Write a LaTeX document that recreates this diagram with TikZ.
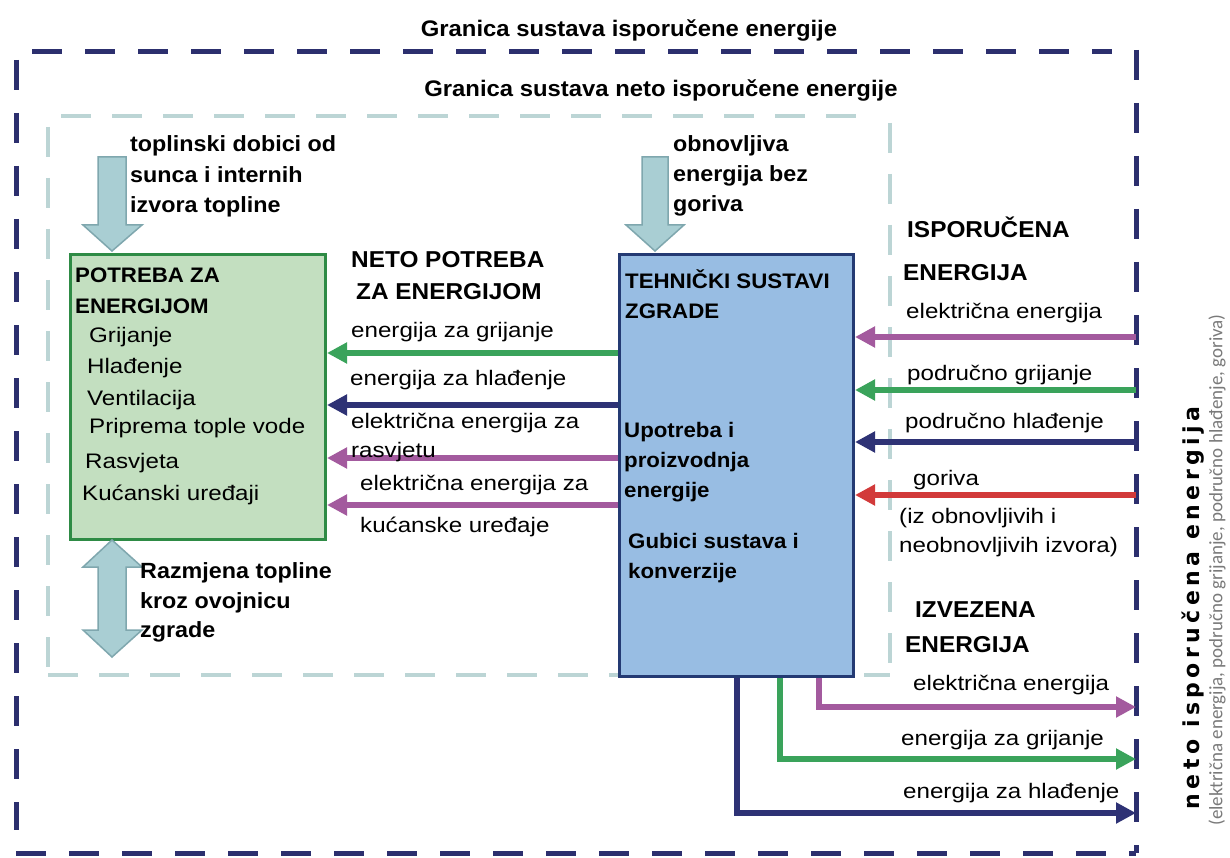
\documentclass[tikz,border=0pt]{standalone}
\usepackage{fontspec}
\setmainfont{Liberation Sans}
\newfontfamily\labf{Liberation Sans}[FakeStretch=1.15]
\newfontfamily\boldf{Liberation Sans Bold}[FakeStretch=1.06]
\newfontfamily\rotf{DejaVu Sans}[LetterSpace=20]
\newfontfamily\grayf{Carlito}
\usetikzlibrary{arrows.meta}
\definecolor{navy}{HTML}{2C2F6E}
\definecolor{innerc}{HTML}{BCD5D5}
\definecolor{gfill}{HTML}{C3DFC0}
\definecolor{gdraw}{HTML}{2E8B45}
\definecolor{bfill}{HTML}{98BDE3}
\definecolor{bdraw}{HTML}{243A73}
\definecolor{ag}{HTML}{3AA35B}
\definecolor{an}{HTML}{2E3275}
\definecolor{ap}{HTML}{A35A9E}
\definecolor{ar}{HTML}{D23A3A}
\definecolor{bafill}{HTML}{A9CED3}
\definecolor{badraw}{HTML}{7FA7AE}
\definecolor{gtxt}{HTML}{7A7A7A}
\tikzset{
 outerb/.style={navy, line width=5pt, dash pattern=on 30pt off 23pt},
 innerb/.style={innerc, line width=4pt, dash pattern=on 30pt off 21pt},
 tt/.style={anchor=base, inner sep=0pt, font=\fontsize{22.5}{26}\selectfont\boldf},
 bt/.style={anchor=base west, inner sep=0pt, font=\fontsize{22}{26}\selectfont\boldf},
 bh/.style={anchor=base west, inner sep=0pt, font=\fontsize{23}{27}\selectfont\boldf},
 bb/.style={anchor=base west, inner sep=0pt, font=\fontsize{21}{26}\selectfont\boldf},
 lt/.style={anchor=base west, inner sep=0pt, font=\fontsize{21}{25}\selectfont\labf},
 flow/.style={line width=6pt, line join=miter, -{Triangle[length=20pt,width=20pt]}},
 blk/.style={fill=bafill, draw=badraw, line width=1.5pt, line join=miter},
}
\begin{document}
\begin{tikzpicture}[x=1pt,y=-1pt]
\useasboundingbox[fill=white] (0,0) rectangle (1230,858);
% outer boundary
\draw[outerb] (32,52) -- (1112,52);
\draw[outerb] (1136,50) -- (1136,853);
\draw[outerb] (16,60) -- (16,830);
\draw[outerb] (16,853) -- (1136,853);
% inner boundary
\draw[innerb] (61,116) -- (873,116);
\draw[innerb] (48,127) -- (48,675);
\draw[innerb] (48,675) -- (890,675);
\draw[innerb] (890,123) -- (890,675);
% titles
\node[tt] (title1) at (629,37) {Granica sustava isporučene energije};
\node[tt] (title2) at (661,97) {Granica sustava neto isporučene energije};
% boxes
\node[draw=gdraw, fill=gfill, line width=3pt, anchor=north west, minimum width=255pt, minimum height=285pt, inner sep=0pt] (G) at (69,253) {};
\node[draw=bdraw, fill=bfill, line width=3pt, anchor=north west, minimum width=234pt, minimum height=422pt, inner sep=0pt] (B) at (618,253) {};
% block arrows
\draw[blk] (98,157) -- (126,157) -- (126,225) -- (142,225) -- (112,251) -- (83,225) -- (98,225) -- cycle;
\draw[blk] (642,157) -- (668,157) -- (668,225) -- (684,225) -- (655,251) -- (626,225) -- (642,225) -- cycle;
\draw[blk] (112,540) -- (142,567) -- (126,567) -- (126,630) -- (142,630) -- (112,657) -- (83,630) -- (98,630) -- (98,567) -- (83,567) -- cycle;
% helper coordinates
\coordinate (R) at (1136,0);
\coordinate (y1) at (0,353);
\coordinate (y2) at (0,405);
\coordinate (y3) at (0,458);
\coordinate (y4) at (0,505);
\coordinate (z1) at (0,337);
\coordinate (z2) at (0,390);
\coordinate (z3) at (0,442);
\coordinate (z4) at (0,495);
\coordinate (e1) at (819,707);
\coordinate (e2) at (780,759);
\coordinate (e3) at (737,813);
% net demand arrows
\draw[flow, ag] (B.west |- y1) -- (G.east |- y1);
\draw[flow, an] (B.west |- y2) -- (G.east |- y2);
\draw[flow, ap] (B.west |- y3) -- (G.east |- y3);
\draw[flow, ap] (B.west |- y4) -- (G.east |- y4);
% delivered arrows
\draw[flow, ap] (R |- z1) -- (B.east |- z1);
\draw[flow, ag] (R |- z2) -- (B.east |- z2);
\draw[flow, an] (R |- z3) -- (B.east |- z3);
\draw[flow, ar] (R |- z4) -- (B.east |- z4);
% exported arrows
\draw[flow, ap] (B.south -| e1) |- (R |- e1);
\draw[flow, ag] (B.south -| e2) |- (R |- e2);
\draw[flow, an] (B.south -| e3) |- (R |- e3);
% texts left
\node[bt] (s1) at (130,152) {toplinski dobici od};
\node[bt] (s2) at (130,183) {sunca i internih};
\node[bt] (s3) at (130,213) {izvora topline};
\node[bt] (o1) at (673,152) {obnovljiva};
\node[bt] (o2) at (673,182) {energija bez};
\node[bt] (o3) at (673,212) {goriva};
\node[bb] (p1) at (75,283) {POTREBA ZA};
\node[bb] (p2) at (75,313) {ENERGIJOM};
\node[lt] (i1) at (89,342) {Grijanje};
\node[lt] (i2) at (87,373) {Hlađenje};
\node[lt] (i3) at (87,405) {Ventilacija};
\node[lt] (i4) at (89,433) {Priprema tople vode};
\node[lt] (i5) at (85,468) {Rasvjeta};
\node[lt] (i6) at (82,500) {Kućanski uređaji};
\node[bt] (r1) at (140,578) {Razmjena topline};
\node[bt] (r2) at (140,608) {kroz ovojnicu};
\node[bt] (r3) at (140,637) {zgrade};
\node[bh] (n1) at (351,268) {NETO POTREBA};
\node[bh] (n2) at (356,300) {ZA ENERGIJOM};
\node[lt] (l1) at (351,337) {energija za grijanje};
\node[lt] (l2) at (350,385) {energija za hlađenje};
\node[lt] (l3) at (351,428) {električna energija za};
\node[lt] (l4) at (351,457) {rasvjetu};
\node[lt] (l5) at (360,490) {električna energija za};
\node[lt] (l6) at (360,532) {kućanske uređaje};
% blue box texts
\node[bb] (b1) at (625,288) {TEHNIČKI SUSTAVI};
\node[bb] (b2) at (625,318) {ZGRADE};
\node[bb] (b3) at (624,437) {Upotreba i};
\node[bb] (b4) at (624,467) {proizvodnja};
\node[bb] (b5) at (624,497) {energije};
\node[bb] (b6) at (628,548) {Gubici sustava i};
\node[bb] (b7) at (628,578) {konverzije};
% right texts
\node[bh] (d1) at (907,238) {ISPORUČENA};
\node[bh] (d2) at (903,280) {ENERGIJA};
\node[lt] (d3) at (906,318) {električna energija};
\node[lt] (d4) at (907,380) {područno grijanje};
\node[lt] (d5) at (905,428) {područno hlađenje};
\node[lt] (d6) at (913,485) {goriva};
\node[lt] (d7) at (899,523) {(iz obnovljivih i};
\node[lt] (d8) at (899,552) {neobnovljivih izvora)};
\node[bh] (x1) at (915,617) {IZVEZENA};
\node[bh] (x2) at (905,652) {ENERGIJA};
\node[lt] (x3) at (913,690) {električna energija};
\node[lt] (x4) at (901,745) {energija za grijanje};
\node[lt] (x5) at (903,798) {energija za hlađenje};
% rotated texts
\node[rotate=90, inner sep=0pt, font=\fontsize{22}{26}\selectfont\rotf\bfseries] (rt1) at (1193,608) {neto isporučena energija};
\node[rotate=90, inner sep=0pt, text=gtxt, font=\fontsize{19}{22}\selectfont\grayf] (rt2) at (1217,570) {(električna energija, područno grijanje, područno hlađenje, goriva)};
\end{tikzpicture}
\end{document}
